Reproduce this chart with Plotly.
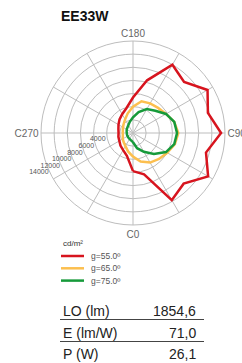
import plotly.graph_objects as go

# ---- data ----
angles_c = [0, 15, 30, 45, 60, 75, 90, 105, 120, 135, 150, 165,
            180, 195, 210, 225, 240, 255, 270, 285, 300, 315, 330, 345]
g55 = [5800, 6500, 11800, 10900, 13200, 11500, 13400, 11800, 13100, 11000, 12000, 8300,
       5400, 3900, 3300, 2900, 2550, 2300, 2200, 2300, 2400, 2700, 3000, 3600]
g65 = [3600, 4500, 5200, 5600, 6000, 6600, 6900, 6500, 5800, 5400, 5200, 5000,
       4000, 3100, 2400, 2000, 1750, 1600, 1550, 1600, 1800, 2000, 2300, 2900]
g75 = [1400, 2400, 3300, 4500, 5800, 6500, 6700, 6500, 5800, 4800, 4200, 3300,
       2400, 1800, 1400, 1200, 1100, 1000, 950, 950, 950, 1000, 1050, 1150]
series_names = ["g=55.0º", "g=65.0º", "g=75.0º"]
series_colors = ["#d7141e", "#fcbf4f", "#169a3a"]

radial_ticks = [2000, 4000, 6000, 8000, 10000, 12000, 14000]
radial_ticktext = ["", "4000", "6000", "8000", "10000", "12000", "14000"]
angular_ticks = list(range(0, 360, 30))
angular_ticktext = ["C0", "", "", "C90", "", "", "C180", "", "", "C270", "", ""]

title_text = "EE33W"
unit_text = "cd/m²"
table_labels = ["LO (lm)", "E (lm/W)", "P (W)"]
table_values = ["1854,6", "71,0", "26,1"]

W, H = 242, 363


def px(x):
    return x / W


def py(y):
    return 1 - y / H


fig = go.Figure()
for vals, name, col in zip([g55, g65, g75], series_names, series_colors):
    fig.add_trace(go.Scatterpolar(
        r=vals + vals[:1], theta=angles_c + angles_c[:1],
        mode="lines", name=name, showlegend=False,
        line=dict(color=col, width=2.5),
    ))

grid = "#bdbdbd"
radial_angle = 210
fig.update_layout(
    width=W, height=H,
    margin=dict(l=0, r=0, t=0, b=0),
    paper_bgcolor="white",
    font=dict(family="Liberation Sans, Arial, sans-serif", color="#444"),
    polar=dict(
        domain=dict(x=[px(41), px(225)], y=[py(225), py(41)]),
        bgcolor="white",
        radialaxis=dict(
            range=[0, 14000], tickvals=radial_ticks, ticktext=radial_ticktext,
            angle=radial_angle, tickangle=radial_angle - 360,
            showline=False, ticks="outside", ticklen=4, tickcolor="rgba(0,0,0,0)",
            side="clockwise",
            gridcolor=grid, gridwidth=1,
            tickfont=dict(size=7, color="#555"),
        ),
        angularaxis=dict(
            rotation=-90, direction="counterclockwise",
            tickvals=angular_ticks, ticktext=angular_ticktext,
            ticks="", showline=True, linecolor=grid, linewidth=1,
            gridcolor=grid, gridwidth=1,
            tickfont=dict(size=10, color="#666"),
        ),
    ),
    showlegend=False,
)

annotations = [dict(
    text="<b>" + title_text + "</b>", x=px(59), y=py(16),
    xref="paper", yref="paper", xanchor="left", yanchor="middle",
    showarrow=False, font=dict(size=14, color="#111"),
)]
shapes = []

# legend (unit title + one swatch per series)
annotations.append(dict(text=unit_text, x=px(61), y=py(243), xref="paper", yref="paper",
                        xanchor="left", yanchor="middle", showarrow=False,
                        font=dict(size=8, color="#333")))
for i, (name, col) in enumerate(zip(series_names, series_colors)):
    yy = 256 + 12.3 * i
    shapes.append(dict(type="line", xref="paper", yref="paper",
                       x0=px(61), x1=px(84), y0=py(yy), y1=py(yy),
                       line=dict(color=col, width=2.5)))
    annotations.append(dict(text=name, x=px(89), y=py(yy), xref="paper", yref="paper",
                            xanchor="left", yanchor="middle", showarrow=False,
                            font=dict(size=8.5, color="#555")))

# summary table
row_y = [311, 333, 354]
for lab, val, yy in zip(table_labels, table_values, row_y):
    annotations.append(dict(text=lab, x=px(61), y=py(yy), xref="paper", yref="paper",
                            xanchor="left", yanchor="middle", showarrow=False,
                            font=dict(size=14, color="#222")))
    annotations.append(dict(text=val, x=px(198), y=py(yy), xref="paper", yref="paper",
                            xanchor="right", yanchor="middle", showarrow=False,
                            font=dict(size=14, color="#222")))
for yy in [319.5, 341.5]:
    shapes.append(dict(type="line", xref="paper", yref="paper",
                       x0=px(60), x1=px(204), y0=py(yy), y1=py(yy),
                       line=dict(color="#444", width=1)))
fig.update_layout(annotations=annotations, shapes=shapes)

fig.write_html(
    "out.html",
    config={"displayModeBar": False},
    post_script="document.body.style.margin='0';document.documentElement.style.overflow='hidden';",
)
